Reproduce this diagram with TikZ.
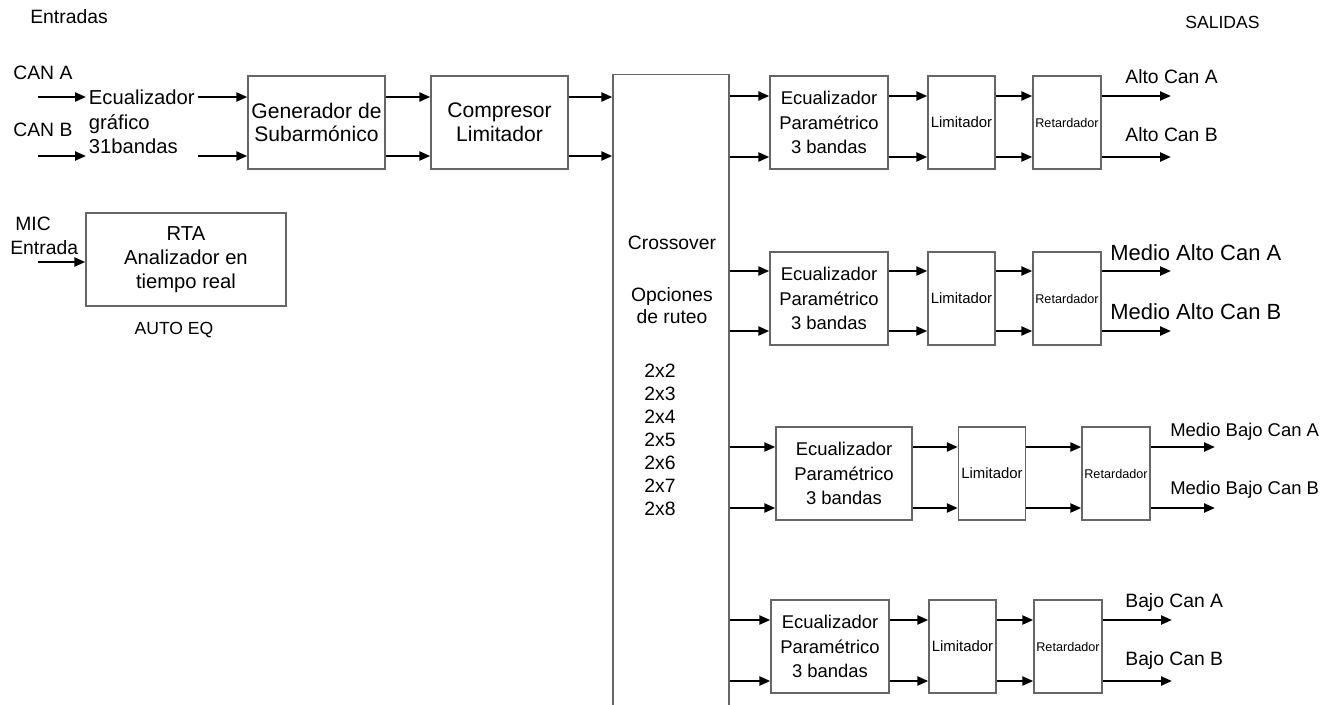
\documentclass[tikz,border=0pt]{standalone}
\usepackage{fontspec}
\setmainfont{Liberation Sans}
\usetikzlibrary{positioning,arrows.meta}

\begin{document}
\begin{tikzpicture}[x=0.02cm, y=-0.02cm,
        box/.style={draw=black!60, line width=0.8pt, inner sep=0pt, align=center, minimum height=1.86cm},
        eqbox/.style={box, minimum width=2.36cm, font=\fontsize{10.5}{14}\selectfont},
        limbox/.style={box, minimum width=1.34cm, font=\fontsize{8.5}{10}\selectfont},
        retbox/.style={box, minimum width=1.36cm, font=\fontsize{7.2}{9}\selectfont},
        flow/.style={-{Triangle[length=2.2mm, width=1.8mm]}, line width=1.3pt},
        txt/.style={inner sep=0pt, font=\fontsize{11}{13.5}\selectfont}]
        \path[use as bounding box, clip] (0,0) rectangle (1343,704);

        % inputs
        \node[txt, anchor=west] (entradas) at (30,17) {Entradas};
        \node[txt, anchor=west] (cana) at (13,73) {CAN A};
        \node[txt, anchor=west] (canb) at (13,130) {CAN B};
        \coordinate (inA) at (38,97);
        \coordinate (inB) at (38,156);
        \node[txt, anchor=west, align=left, inner sep=1.5pt, font=\fontsize{11.5}{13.9}\selectfont] (geq) at (86,122) {Ecualizador\\gráfico\\31bandas};
        \node[box, minimum width=2.74cm, font=\fontsize{12}{13.6}\selectfont] (gen) at (316.5,122.5) {Generador de\\Subarmónico};
        \node[box, minimum width=2.74cm, font=\fontsize{12}{13.6}\selectfont] (comp) at (499.5,122.5) {Compresor\\Limitador};
        \node[box, minimum width=2.32cm, minimum height=13.6cm, anchor=north] (cross) at (671,74) {};

        \draw[flow] (inA) -- (inA -| geq.west);
        \draw[flow] (inB) -- (inB -| geq.west);
        \draw[flow] (inA -| geq.east) -- (inA -| gen.west);
        \draw[flow] (inB -| geq.east) -- (inB -| gen.west);
        \draw[flow] (inA -| gen.east) -- (inA -| comp.west);
        \draw[flow] (inB -| gen.east) -- (inB -| comp.west);
        \draw[flow] (inA -| comp.east) -- (inA -| cross.west);
        \draw[flow] (inB -| comp.east) -- (inB -| cross.west);

        % RTA
        \node[txt, anchor=west] (mic) at (15,224) {MIC};
        \node[txt, anchor=west] (micin) at (10,248) {Entrada};
        \coordinate (inMic) at (38,262);
        \node[box, minimum width=4cm, font=\fontsize{11.5}{13.6}\selectfont] (rta) at (186,259.5) {RTA\\Analizador en\\tiempo real};
        \draw[flow] (inMic) -- (inMic -| rta.west);
        \node[txt, below=0.3cm of rta, xshift=-0.24cm, font=\fontsize{10}{12}\selectfont] (autoeq) {AUTO EQ};

        % crossover
        \node[txt] (xname) at (672,243) {Crossover};
        \node[txt, align=center, font=\fontsize{11}{12.5}\selectfont] (xopts) at (672,306) {Opciones\\de ruteo};
        \node[txt, align=center, font=\fontsize{11}{13.15}\selectfont] (xsizes) at (660,440) {2x2\\2x3\\2x4\\2x5\\2x6\\2x7\\2x8};

        \node[txt, anchor=west, font=\fontsize{10}{12}\selectfont] (salidas) at (1185,22) {SALIDAS};

        % alto
        \node[eqbox] (eq1) at (829,122.5) {Ecualizador\\Paramétrico\\3 bandas};
        \node[limbox] (lim1) at (961.5,122.5) {Limitador};
        \node[retbox] (ret1) at (1067,122.5) {Retardador};
        \coordinate (o1a) at (1171,96);
        \coordinate (o1b) at (1171,157);
        \foreach \o in {o1a,o1b} {
            \draw[flow] (\o -| cross.east) -- (\o -| eq1.west);
            \draw[flow] (\o -| eq1.east) -- (\o -| lim1.west);
            \draw[flow] (\o -| lim1.east) -- (\o -| ret1.west);
            \draw[flow] (\o -| ret1.east) -- (\o);
        }
        \node[txt, anchor=west] (o1alabel) at (1125,77) {Alto Can A};
        \node[txt, anchor=west] (o1blabel) at (1125,135) {Alto Can B};

        % medio alto
        \node[eqbox] (eq2) at (829,298.5) {Ecualizador\\Paramétrico\\3 bandas};
        \node[limbox] (lim2) at (961.5,298.5) {Limitador};
        \node[retbox] (ret2) at (1067,298.5) {Retardador};
        \coordinate (o2a) at (1171,271);
        \coordinate (o2b) at (1171,331);
        \foreach \o in {o2a,o2b} {
            \draw[flow] (\o -| cross.east) -- (\o -| eq2.west);
            \draw[flow] (\o -| eq2.east) -- (\o -| lim2.west);
            \draw[flow] (\o -| lim2.east) -- (\o -| ret2.west);
            \draw[flow] (\o -| ret2.east) -- (\o);
        }
        \node[txt, anchor=west, font=\fontsize{12.5}{14}\selectfont] (o2alabel) at (1110,253) {Medio Alto Can A};
        \node[txt, anchor=west, font=\fontsize{12.5}{14}\selectfont] (o2blabel) at (1110,312) {Medio Alto Can B};

        % medio bajo
        \node[eqbox, minimum width=2.72cm] (eq3) at (844,473.5) {Ecualizador\\Paramétrico\\3 bandas};
        \node[limbox] (lim3) at (992,473.5) {Limitador};
        \node[retbox] (ret3) at (1116,473.5) {Retardador};
        \coordinate (o3a) at (1215,447);
        \coordinate (o3b) at (1215,508);
        \foreach \o in {o3a,o3b} {
            \draw[flow] (\o -| cross.east) -- (\o -| eq3.west);
            \draw[flow] (\o -| eq3.east) -- (\o -| lim3.west);
            \draw[flow] (\o -| lim3.east) -- (\o -| ret3.west);
            \draw[flow] (\o -| ret3.east) -- (\o);
        }
        \node[txt, anchor=west, font=\fontsize{10.5}{12}\selectfont] (o3alabel) at (1170,432) {Medio Bajo Can A};
        \node[txt, anchor=west, font=\fontsize{10.5}{12}\selectfont] (o3blabel) at (1170,490) {Medio Bajo Can B};

        % bajo
        \node[eqbox] (eq4) at (830,646.5) {Ecualizador\\Paramétrico\\3 bandas};
        \node[limbox] (lim4) at (962.5,646.5) {Limitador};
        \node[retbox] (ret4) at (1068,646.5) {Retardador};
        \coordinate (o4a) at (1172,620);
        \coordinate (o4b) at (1172,681);
        \foreach \o in {o4a,o4b} {
            \draw[flow] (\o -| cross.east) -- (\o -| eq4.west);
            \draw[flow] (\o -| eq4.east) -- (\o -| lim4.west);
            \draw[flow] (\o -| lim4.east) -- (\o -| ret4.west);
            \draw[flow] (\o -| ret4.east) -- (\o);
        }
        \node[txt, anchor=west] (o4alabel) at (1125,602) {Bajo Can A};
        \node[txt, anchor=west] (o4blabel) at (1125,660) {Bajo Can B};
\end{tikzpicture}
\end{document}
